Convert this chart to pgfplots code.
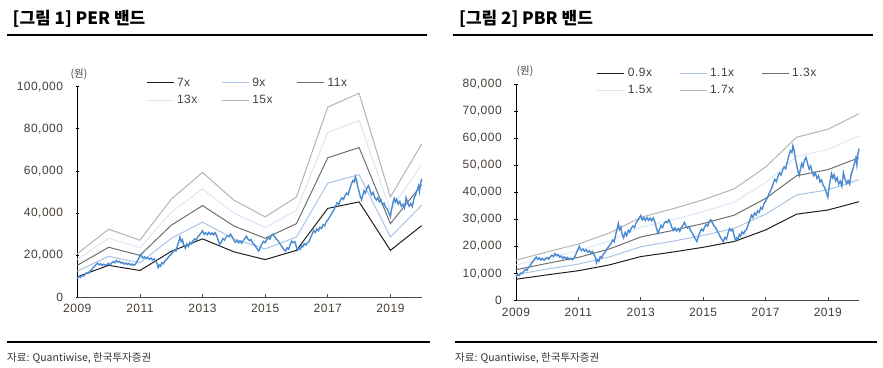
\documentclass[border=0pt]{standalone}
\usepackage{pgfplots}
\usepackage{pgfplotstable}
\pgfplotsset{compat=1.18}
\usepackage{fontspec}
\setmainfont{Liberation Sans}
\newfontfamily\kr{Noto Sans CJK KR}
\newfontfamily\numfont[LetterSpace=4]{Liberation Sans}
\definecolor{cA}{HTML}{1E1E1E}
\definecolor{cB}{HTML}{A9C3E8}
\definecolor{cC}{HTML}{6E6E6E}
\definecolor{cD}{HTML}{DBE6F5}
\definecolor{cE}{HTML}{B3B3B3}
\definecolor{cP}{HTML}{4A8AD0}
\definecolor{tk}{RGB}{70,62,55}

\pgfplotstableread{
t v
2009.00 9000
2009.05 9600
2009.10 9300
2009.15 10200
2009.20 10000
2009.25 10900
2009.30 11500
2009.35 11200
2009.40 12300
2009.45 12800
2009.50 13900
2009.55 14500
2009.60 15400
2009.65 16100
2009.70 15300
2009.75 15800
2009.80 15000
2009.85 15600
2009.90 14900
2009.95 15500
2010.00 15900
2010.05 15300
2010.10 16200
2010.15 16800
2010.20 16300
2010.25 17400
2010.30 16600
2010.35 17000
2010.40 16100
2010.45 16500
2010.50 15600
2010.55 16200
2010.60 15500
2010.65 16000
2010.70 15200
2010.75 15700
2010.80 15100
2010.85 15500
2010.90 16600
2010.95 18000
2011.00 19300
2011.03 20100
2011.06 19200
2011.10 18500
2011.15 19100
2011.20 18300
2011.25 18800
2011.30 17900
2011.35 18500
2011.40 17600
2011.45 18200
2011.50 17000
2011.55 16000
2011.58 14000
2011.62 15200
2011.66 14600
2011.70 16300
2011.75 15800
2011.80 17200
2011.85 17800
2011.90 18800
2011.95 19600
2012.00 20400
2012.05 21300
2012.10 22400
2012.15 21800
2012.20 24500
2012.25 26800
2012.28 28500
2012.32 26300
2012.36 27200
2012.40 24600
2012.45 23200
2012.50 25200
2012.55 24000
2012.60 26000
2012.65 25300
2012.70 26800
2012.75 27600
2012.80 27000
2012.85 28700
2012.90 29500
2012.95 30400
2013.00 31500
2013.05 29800
2013.10 30600
2013.15 29600
2013.20 30700
2013.25 29700
2013.30 30500
2013.35 29500
2013.40 30600
2013.45 29200
2013.50 27000
2013.55 25000
2013.60 26200
2013.65 27800
2013.70 27000
2013.75 28500
2013.80 29200
2013.85 28800
2013.90 29900
2013.95 28600
2014.00 27000
2014.05 26000
2014.10 26900
2014.15 25800
2014.20 26600
2014.25 25600
2014.30 26900
2014.35 27800
2014.40 28900
2014.45 27600
2014.50 26800
2014.55 27400
2014.60 25800
2014.65 25000
2014.70 23900
2014.75 22800
2014.80 21900
2014.85 23800
2014.90 25300
2014.95 26400
2015.00 25800
2015.05 27200
2015.10 28100
2015.15 27500
2015.20 29300
2015.25 29900
2015.30 28700
2015.35 27600
2015.40 27000
2015.45 25800
2015.50 24800
2015.55 23600
2015.60 22600
2015.65 21800
2015.70 23400
2015.75 22700
2015.80 25000
2015.85 26600
2015.90 25800
2015.95 26300
2016.00 23800
2016.04 22300
2016.08 23200
2016.12 22600
2016.16 24400
2016.20 23800
2016.25 25400
2016.30 24700
2016.35 25900
2016.40 26400
2016.45 28200
2016.50 29800
2016.55 31600
2016.60 30700
2016.65 32400
2016.70 31600
2016.75 33200
2016.80 32600
2016.85 34400
2016.90 33800
2016.95 35700
2017.00 36600
2017.05 37800
2017.10 39100
2017.15 40400
2017.20 41500
2017.25 43300
2017.30 44800
2017.35 44000
2017.40 45900
2017.45 47200
2017.50 46400
2017.55 48200
2017.60 49400
2017.65 48700
2017.70 51300
2017.75 53500
2017.80 55400
2017.85 54700
2017.88 57200
2017.92 55600
2017.96 52300
2018.00 50100
2018.04 47800
2018.08 46200
2018.12 48400
2018.16 50600
2018.20 49400
2018.25 51800
2018.30 52900
2018.35 50700
2018.40 48600
2018.45 49700
2018.50 47300
2018.55 46100
2018.60 47200
2018.65 45200
2018.70 46100
2018.75 43800
2018.80 44600
2018.85 42600
2018.90 41800
2018.95 40000
2019.00 38200
2019.04 41800
2019.08 44600
2019.12 46900
2019.16 45300
2019.20 46500
2019.25 44200
2019.30 45400
2019.35 43100
2019.40 44100
2019.45 42300
2019.50 47200
2019.55 45000
2019.60 43200
2019.65 44400
2019.70 43000
2019.75 46800
2019.80 48500
2019.85 50600
2019.90 52800
2019.93 50200
2019.96 53800
2020.00 56200
}\price

\pgfplotstableread{
year b7 b9 b11 b13 b15
2009 9590 12330 15070 17810 20550
2010 15050 19350 23650 27950 32250
2011 12600 16200 19800 23400 27000
2012 21700 27900 34100 40300 46500
2013 27650 35550 43450 51350 59250
2014 21490 27630 33770 39910 46050
2015 17780 22860 27940 33020 38100
2016 22190 28530 34870 41210 47550
2017 42140 54180 66220 78260 90300
2018 45220 58140 71060 83980 96900
2019 22190 28530 34870 41210 47550
2020 33950 43650 53350 63050 72750
}\per

\pgfplotstableread{
year b09 b11 b13 b15 b17
2009 7920 9680 11440 13200 14960
2010 9540 11660 13780 15900 18020
2011 11070 13530 15990 18450 20910
2012 13230 16170 19110 22050 24990
2013 16290 19910 23530 27150 30770
2014 17910 21890 25870 29850 33830
2015 19710 24090 28470 32850 37230
2016 21870 26730 31590 36450 41310
2017 26100 31900 37700 43500 49300
2018 31950 39050 46150 53250 60350
2019 33480 40920 48360 55800 63240
2020 36540 44660 52780 60900 69020
}\pbr

\pgfplotsset{
  band/.style={
    scale only axis,
    xmin=2009, xmax=2020, ymin=0,
    axis x line=bottom, axis y line=left,
    axis line style={-},
    x axis line style={draw=black!70, line width=0.9pt},
    y axis line style={draw=black, line width=0.8pt},
    xtick={2009,2011,2013,2015,2017,2019},
    xticklabels={2009,2011,2013,2015,2017,2019},
    scaled y ticks=false,
    yticklabel style={/pgf/number format/1000 sep={,}, /pgf/number format/fixed, /pgf/number format/assume math mode=true},
    xticklabel style={yshift=-4pt},
    ytick style={draw=black, line width=0.6pt},
    xtick style={draw=black!70, line width=0.6pt},
    xtick align=inside, ytick align=center,
    major tick length=3.5pt,
    tick label style={font=\numfont\fontsize{12}{12}\selectfont, text=tk},
    clip=false,
    legend columns=3,
    legend cell align=left,
    legend image code/.code={\draw[##1] (0pt,0pt) -- (27pt,0pt);},
    legend style={draw=none, fill=none, inner sep=0pt, outer sep=0pt,
      font=\numfont\fontsize{12}{12}\selectfont, text=tk,
      nodes={inner sep=1pt},
      row sep=5.5pt},
  }
}

\begin{document}
\begin{tikzpicture}
\path (0pt,0pt) rectangle (883pt,367pt);
% titles and rules
\node[anchor=west, inner sep=0pt, font=\kr\bfseries\fontsize{17}{17}\selectfont] at (12.5pt,348.5pt) {[그림 1] PER 밴드};
\node[anchor=west, inner sep=0pt, font=\kr\bfseries\fontsize{17}{17}\selectfont] at (459pt,348.5pt) {[그림 2] PBR 밴드};
\draw[line width=2.2pt] (7pt,332pt) -- (427pt,332pt);
\draw[line width=2.2pt] (453pt,332pt) -- (873pt,332pt);
\draw[line width=2.4pt] (7pt,25pt) -- (430pt,25pt);
\draw[line width=2.4pt] (455pt,25pt) -- (877pt,25pt);
\node[anchor=west, inner sep=0pt, font=\kr\fontsize{10.5}{11}\selectfont, text=black!80] at (7pt,9pt) {자료: Quantiwise, 한국투자증권};
\node[anchor=west, inner sep=0pt, font=\kr\fontsize{10.5}{11}\selectfont, text=black!80] at (455pt,9pt) {자료: Quantiwise, 한국투자증권};
\node[font=\kr\fontsize{10.5}{11}\selectfont, text=tk] at (79pt,293pt) {(원)};
\node[font=\kr\fontsize{10.5}{11}\selectfont, text=tk] at (525pt,296pt) {(원)};

\begin{axis}[band, at={(77.3pt,70pt)}, anchor=south west, width=344.4pt, height=210.3pt,
  ymax=100000, ytick={0,20000,40000,60000,80000,100000},
  yticklabel style={xshift=-9pt},
  legend style={at={(axis description cs:0.1995,1.047)}, anchor=north west,
    /tikz/every odd column/.append style={column sep=2pt},
    /tikz/every even column/.append style={column sep=23pt}}]
\addplot[cA, line width=1pt] table[x=year,y=b7] {\per};
\addplot[cB, line width=1pt] table[x=year,y=b9] {\per};
\addplot[cC, line width=1pt] table[x=year,y=b11] {\per};
\addplot[cD, line width=1pt] table[x=year,y=b13] {\per};
\addplot[cE, line width=1pt] table[x=year,y=b15] {\per};
\addplot[cP, line width=1.4pt, forget plot] table[x=t,y=v] {\price};
\legend{7x,9x,11x,13x,15x}
\end{axis}

\begin{axis}[band, at={(516pt,66.3pt)}, anchor=south west, width=343pt, height=216.7pt,
  ymax=80000, ytick={0,10000,20000,30000,40000,50000,60000,70000,80000},
  yticklabel style={xshift=-9pt},
  legend style={at={(axis description cs:0.236,1.078)}, anchor=north west,
    /tikz/every odd column/.append style={column sep=2pt},
    /tikz/every even column/.append style={column sep=26pt}}]
\addplot[cA, line width=1pt] table[x=year,y=b09] {\pbr};
\addplot[cB, line width=1pt] table[x=year,y=b11] {\pbr};
\addplot[cC, line width=1pt] table[x=year,y=b13] {\pbr};
\addplot[cD, line width=1pt] table[x=year,y=b15] {\pbr};
\addplot[cE, line width=1pt] table[x=year,y=b17] {\pbr};
\addplot[cP, line width=1.4pt, forget plot] table[x=t,y=v] {\price};
\legend{0.9x,1.1x,1.3x,1.5x,1.7x}
\end{axis}
\end{tikzpicture}
\end{document}
